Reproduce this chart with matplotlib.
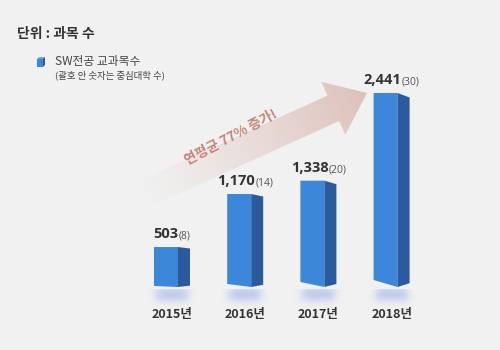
import numpy as np
import matplotlib
matplotlib.use('Agg')
import matplotlib.pyplot as plt
from matplotlib.patches import Polygon
from matplotlib.offsetbox import TextArea, HPacker, AnnotationBbox

plt.rcParams['font.family'] = ['Noto Sans CJK KR', 'DejaVu Sans']
NUM_FONT = ['Open Sans', 'Noto Sans CJK KR']

# SW 전공 교과목 수 (괄호: 중심대학 수)
years = ['2015년', '2016년', '2017년', '2018년']
courses = [503, 1170, 1338, 2441]
universities = [8, 14, 20, 30]

BG = '#f1f1f1'
FRONT = '#3c87da'
SIDE = '#2c5b9d'
TEXT = '#333333'
W, H = 500, 350

fig = plt.figure(figsize=(W / 100, H / 100), dpi=100, facecolor=BG)

# background layer, pixel coordinates (y downwards)
deco = fig.add_axes([0, 0, 1, 1])
deco.axis('off')

# growth arrow with a fading gradient
tail = np.array([140.0, 196.0])
tip = np.array([367.0, 93.0])
length = np.linalg.norm(tip - tail)
u = (tip - tail) / length
n = np.array([-u[1], u[0]])
neck = tip - u * 37
arrow_pts = [tail + n * 14, neck + n * 14, neck + n * 29, tip,
             neck - n * 29, neck - n * 14, tail - n * 14]
arrow = Polygon(arrow_pts, closed=True, facecolor='none', edgecolor='none')
deco.add_patch(arrow)

yy, xx = np.mgrid[0:H, 0:W] + 0.5
t = ((xx - tail[0]) * u[0] + (yy - tail[1]) * u[1]) / length
t = np.clip(t, 0, 1)
grad = np.zeros((H, W, 4))
grad[..., :3] = np.array([221, 193, 186]) / 255
grad[..., 3] = t ** 1.2
im = deco.imshow(grad, extent=(0, W, H, 0), origin='upper',
                 interpolation='bilinear', zorder=1)
im.set_clip_path(arrow)
deco.set_aspect('auto')
deco.set_xlim(0, W)
deco.set_ylim(H, 0)

deco.text(231, 137, '연평균 77% 증가!', rotation=28, ha='center', va='center',
          rotation_mode='anchor', color='#c98172', fontsize=9.8,
          fontweight='bold', zorder=2)

# title and legend
deco.text(17, 34, '단위 : 과목 수', fontsize=10, fontweight='bold',
          color=TEXT, va='center')
deco.add_patch(Polygon([(37, 59), (43, 59), (43, 67), (37, 67)],
                       facecolor=FRONT, edgecolor='none'))
deco.add_patch(Polygon([(37, 59), (39, 57), (45, 57), (43, 59)],
                       facecolor='#6aa6e6', edgecolor='none'))
deco.add_patch(Polygon([(43, 59), (45, 57), (45, 65), (43, 67)],
                       facecolor=SIDE, edgecolor='none'))
deco.text(55, 62, 'SW전공 교과목수', fontsize=8.5, color='#444444', va='center')
deco.text(55, 75, '(괄호 안 숫자는 중심대학 수)', fontsize=6.8,
          color='#444444', va='center')

# bar layer
ax = fig.add_axes([0, 63 / H, 1, 194 / H])
ax.patch.set_alpha(0)
ax.axis('off')
x = np.arange(len(years))
step = 73.2                      # pixels between bar centres
ux = 1 / step                    # x data units per pixel
uy = max(courses) / 194          # y data units per pixel

front_w = 24 * ux
side_w = 12 * ux
for i, (xi, v) in enumerate(zip(x, courses)):
    tilt = 1 + 2 * i             # perspective of the bottom edge
    x0 = xi - 18 * ux
    x1 = x0 + front_w
    x2 = x1 + side_w
    ax.add_patch(Polygon([(x0, tilt * uy), (x1, 0), (x1, v), (x0, v)],
                         closed=True, facecolor=FRONT, edgecolor='none', zorder=3))
    ax.add_patch(Polygon([(x1, 0), (x2, (1 + 0.4 * tilt) * uy),
                          (x2, v - (1 + 0.5 * tilt) * uy), (x1, v)],
                         closed=True, facecolor=SIDE, edgecolor='none', zorder=3))

    # soft reflection under the bar
    rx = np.linspace(-1, 1, 60)
    ry = np.linspace(0, 1, 30)
    hx = np.exp(-(np.abs(rx) / 0.7) ** 4)
    vy = np.exp(-((ry - 0.25) / 0.4) ** 2)
    refl = np.zeros((30, 60, 4))
    refl[..., :3] = np.array([175, 192, 236]) / 255
    refl[..., 3] = 0.75 * np.outer(vy, hx)
    ax.imshow(refl, extent=(xi - 25 * ux, xi + 25 * ux, -22 * uy, -2 * uy),
              origin='upper', interpolation='bilinear', aspect='auto',
              zorder=2, clip_on=False)

    num = TextArea(f'{v:,}', textprops=dict(fontsize=10.5, fontweight='bold',
                                            color=TEXT, family=NUM_FONT))
    sub = TextArea(f'({universities[i]})',
                   textprops=dict(fontsize=7.5, color='#555555', family=NUM_FONT))
    box = HPacker(children=[num, sub], align='baseline', pad=0, sep=0)
    ab = AnnotationBbox(box, (xi, v), xybox=(0, 4), xycoords='data',
                        boxcoords='offset points', box_alignment=(0.5, 0),
                        frameon=False, annotation_clip=False, zorder=4)
    ax.add_artist(ab)

    ax.annotate(years[i], (xi, 0), xytext=(0, -20), textcoords='offset points',
                ha='center', va='center', fontsize=9, fontweight='bold',
                color=TEXT, annotation_clip=False)

ax.set_xlim(-172 / step, (W - 172) / step)
ax.set_ylim(0, max(courses))

fig.savefig('out.png', dpi=100, facecolor=BG)
